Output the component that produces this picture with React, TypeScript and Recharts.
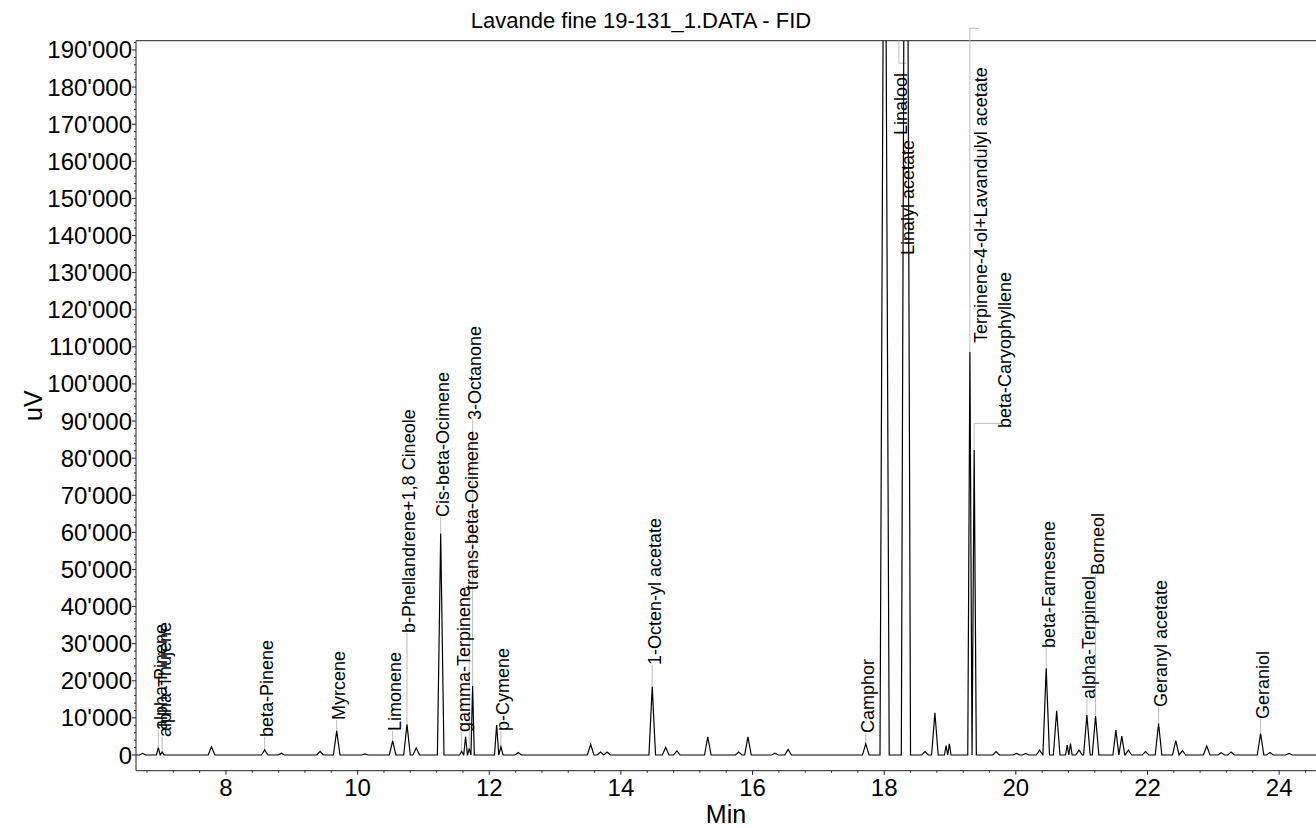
import React from "react";
import { LineChart, Line, XAxis, YAxis, ReferenceLine, ReferenceDot } from "recharts";

// retention time (min) and apex signal (uV) of the peaks
const peakTimes = [
  6.735, 6.972, 7.03, 7.78, 8.588, 8.84, 9.43, 9.682, 10.11, 10.532, 10.75, 10.89,
  11.262, 11.58, 11.64, 11.696, 11.747, 12.112, 12.177, 12.44, 13.54, 13.69, 13.79,
  14.476, 14.68, 14.85, 15.32, 15.79, 15.93, 16.34, 16.54, 17.72, 18.006, 18.33,
  18.62, 18.77, 18.94, 18.99, 19.302, 19.367, 19.7, 20.01, 20.15, 20.36, 20.461,
  20.62, 20.78, 20.83, 20.96, 21.079, 21.211, 21.52, 21.61, 21.71, 21.97, 22.168,
  22.43, 22.53, 22.9, 23.12, 23.27, 23.718, 23.86, 24.15,
];
const peakHeights = [
  400, 2000, 800, 2200, 1400, 500, 1000, 6500, 300, 3800, 8300, 1900,
  59700, 1000, 5000, 1800, 18600, 8100, 2200, 700, 2900, 800, 800,
  18400, 2100, 1100, 4900, 800, 4900, 500, 1500, 3000, 290000, 360000,
  900, 11400, 2500, 3000, 108600, 82200, 900, 400, 400, 1300, 23400,
  11900, 2700, 3100, 1300, 10800, 10500, 6700, 5100, 1300, 900, 8500,
  3900, 1200, 2400, 600, 800, 5800, 700, 400,
];

// peak annotations: leader from (labelPeakT, labelPeakV) up to the text start
const labelNames = [
  "alpha-Pinene", "alpha-Thujene", "beta-Pinene", "Myrcene", "Limonene",
  "b-Phellandrene+1,8 Cineole", "Cis-beta-Ocimene", "gamma-Terpinene",
  "trans-beta-Ocimene", "3-Octanone", "p-Cymene", "1-Octen-yl acetate", "Camphor",
  "Linalool", "Linalyl acetate", "Terpinene-4-ol+Lavandulyl acetate",
  "beta-Caryophyllene", "beta-Farnesene", "alpha-Terpineol", "Borneol",
  "Geranyl acetate", "Geraniol",
];
const labelPeakT = [
  6.972, 7.03, 8.588, 9.682, 10.532, 10.75, 11.262, 11.58, 11.696, 11.747, 12.177,
  14.476, 17.72, 18.222, 18.33, 19.302, 19.367, 20.461, 21.079, 21.211, 22.168, 23.718,
];
const labelPeakV = [
  2000, 800, 1400, 6500, 3800, 8300, 59700, 1000, 1800, 18600, 2200,
  18400, 3000, 192500, 134750, 108600, 82200, 23400, 10800, 10500, 8500, 5800,
];
const labelTextT = [
  6.972, 7.03, 8.588, 9.682, 10.532, 10.75, 11.262, 11.58, 11.696, 11.747, 12.177,
  14.476, 17.72, 18.222, 18.33, 19.438, 19.8, 20.461, 21.079, 21.211, 22.168, 23.718,
];
const labelTextV = [
  6740, 4850, 4850, 9430, 6470, 32880, 64140, 6200, 44470, 90280, 6470,
  24260, 5930, 167090, 134750, 111030, 88130, 28840, 15090, 48510, 12940, 9700,
];
// where the leader turns sideways (null = straight leader) and where that side part ends
const labelBendV = [
  null, null, null, null, null, null, null, null, null, null, null,
  null, null, 186440, null, 195840, 89390, null, null, null, null, null,
];
const labelBendT = [
  null, null, null, null, null, null, null, null, null, null, null,
  null, null, 18.34, null, 19.438, 19.8, null, null, null, null, null,
];

const xMajorTicks = [8, 10, 12, 14, 16, 18, 20, 22, 24];
const yMajorTicks = [
  0, 10000, 20000, 30000, 40000, 50000, 60000, 70000, 80000, 90000, 100000,
  110000, 120000, 130000, 140000, 150000, 160000, 170000, 180000, 190000,
];

const X_MIN = 6.633;
const X_MAX = 24.56;
const Y_MIN = -4230;
const Y_MAX = 192500;

const xTicks: number[] = [];
for (let v = 6.8; v <= X_MAX; v += 0.4) xTicks.push(Math.round(v * 10) / 10);
const yTicks: number[] = [];
for (let v = 0; v <= Y_MAX; v += 2000) yTicks.push(v);

// triangle per peak, narrowed where neighbours are close
const trace: { t: number; v: number }[] = [{ t: X_MIN, v: 0 }];
peakTimes.forEach((t, i) => {
  const h = peakHeights[i];
  const prev = i > 0 ? t - peakTimes[i - 1] : 1;
  const next = i < peakTimes.length - 1 ? peakTimes[i + 1] - t : 1;
  const hw = Math.min(h > 150000 ? 0.07 : 0.05, prev / 2, next / 2);
  trace.push({ t: t - hw, v: 0 }, { t, v: h }, { t: t + hw, v: 0 });
});
trace.push({ t: X_MAX, v: 0 });

const FONT = "'Liberation Sans', Arial, Helvetica, sans-serif";
const AXIS = "#222";
const LEADER = "#bdbdbd";

const fmt = (v: number) => String(v).replace(/\B(?=(\d{3})+(?!\d))/g, "'");

const YTick = (props: any) => {
  const { x, y, payload } = props;
  const major = yMajorTicks.includes(payload.value);
  return (
    <g>
      <line x1={x} x2={x - (major ? 4 : 2)} y1={y} y2={y} stroke={AXIS} />
      {major && (
        <text x={x - 4} y={y} textAnchor="end" dominantBaseline="central" fontSize={24} fill="#000">
          {fmt(payload.value)}
        </text>
      )}
    </g>
  );
};

const XTick = (props: any) => {
  const { x, y, payload } = props;
  const major = xMajorTicks.some((m) => Math.abs(m - payload.value) < 1e-6);
  return (
    <g>
      <line x1={x} x2={x} y1={y} y2={y + (major ? 4 : 2)} stroke={AXIS} />
      {major && (
        <text x={x} y={y + 17} textAnchor="middle" dominantBaseline="central" fontSize={24} fill="#000">
          {Math.round(payload.value)}
        </text>
      )}
    </g>
  );
};

export default function App() {
  return (
    <div
      style={{
        position: "absolute",
        left: 0,
        top: 0,
        width: 1316,
        height: 828,
        background: "#fff",
        fontFamily: FONT,
      }}
    >
      <LineChart
        width={1316}
        height={828}
        data={trace}
        margin={{ top: 40.7, right: 0, bottom: 0, left: 0 }}
      >
        <XAxis
          dataKey="t"
          type="number"
          domain={[X_MIN, X_MAX]}
          allowDataOverflow
          ticks={xTicks}
          interval={0}
          tick={XTick}
          tickLine={false}
          tickSize={0}
          tickMargin={0}
          height={57.3}
          axisLine={{ stroke: AXIS }}
          label={{ value: "Min", position: "insideBottom", offset: 5, fontSize: 25, fill: "#000" }}
        />
        <YAxis
          type="number"
          domain={[Y_MIN, Y_MAX]}
          allowDataOverflow
          ticks={yTicks}
          interval={0}
          tick={YTick}
          tickLine={false}
          tickSize={0}
          tickMargin={0}
          width={136}
          axisLine={{ stroke: AXIS }}
          label={{
            position: "insideLeft",
            content: (p: any) => {
              const vb = p.viewBox || { x: 0, y: 40.7, height: 730 };
              const cy = vb.y + vb.height / 2;
              return (
                <text
                  transform={`translate(${vb.x + 33},${cy}) rotate(-90)`}
                  textAnchor="middle"
                  dominantBaseline="central"
                  fontSize={25}
                  fill="#000"
                >
                  uV
                </text>
              );
            },
          }}
        />
        <ReferenceLine y={Y_MAX} stroke={AXIS} />
        {labelNames.map((name, i) => {
          const bend = labelBendV[i];
          const top = bend ?? labelTextV[i];
          return (
            <ReferenceLine
              key={`lead-${name}`}
              segment={[
                { x: labelPeakT[i], y: labelPeakV[i] },
                { x: labelPeakT[i], y: top },
              ]}
              stroke={LEADER}
              ifOverflow="visible"
            />
          );
        })}
        {labelNames.map((name, i) =>
          labelBendV[i] == null ? null : (
            <ReferenceLine
              key={`bend-${name}`}
              segment={[
                { x: labelPeakT[i], y: labelBendV[i] as number },
                { x: labelBendT[i] as number, y: labelBendV[i] as number },
              ]}
              stroke={LEADER}
              ifOverflow="visible"
            />
          )
        )}
        <Line
          dataKey="v"
          type="linear"
          stroke="#000"
          strokeWidth={1.2}
          dot={false}
          activeDot={false}
          isAnimationActive={false}
        />
        {labelNames.map((name, i) => (
          <ReferenceDot
            key={`txt-${name}`}
            x={labelTextT[i]}
            y={labelTextV[i]}
            r={0}
            ifOverflow="visible"
            shape={(p: any) => (
              <text
                transform={`translate(${p.cx + 2.5},${p.cy}) rotate(-90)`}
                textAnchor="start"
                dominantBaseline="central"
                fontSize={18}
                fill="#000"
              >
                {name}
              </text>
            )}
          />
        ))}
      </LineChart>
      <svg
        width={1316}
        height={40}
        style={{ position: "absolute", left: 0, top: 0, pointerEvents: "none" }}
      >
        <text x={641} y={28} textAnchor="middle" fontSize={22} fill="#000" fontFamily={FONT}>
          Lavande fine 19-131_1.DATA - FID
        </text>
      </svg>
    </div>
  );
}
